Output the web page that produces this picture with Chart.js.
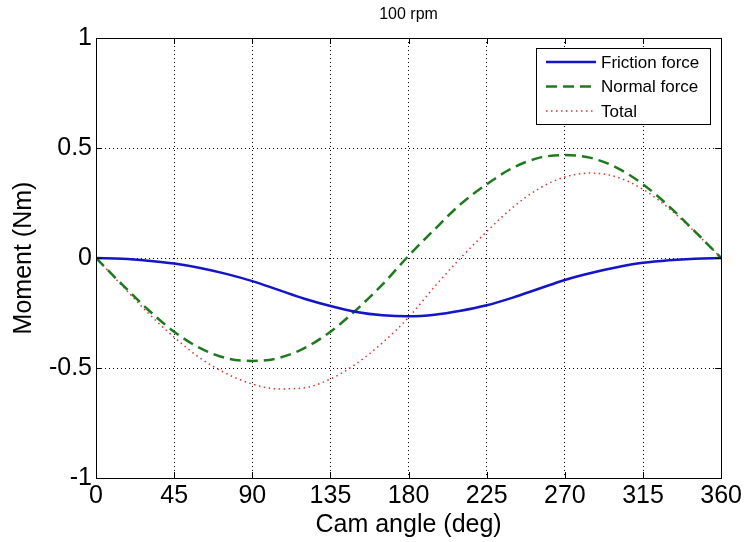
<!DOCTYPE html>
<html lang="en">
<head>
    <meta charset="UTF-8">
    <title>100 rpm</title>
    <script src="https://cdn.jsdelivr.net/npm/chart.js"></script>
    <style>
        body { margin: 0; background: #fff; }
        canvas { display: block; }
    </style>
</head>
<body>
    <canvas id="myChart" width="745" height="542"></canvas>

    <script>
        // Cam angle (deg)
        let angoli = [0, 15, 30, 45, 60, 75, 90, 105, 120, 135, 150, 165, 180,
                      195, 210, 225, 240, 255, 270, 285, 300, 315, 330, 345, 360];
        // Moment (Nm)
        let friction = [0, -0.003, -0.012, -0.025, -0.045, -0.072, -0.105, -0.145, -0.185, -0.218, -0.245, -0.26, -0.265,
                        -0.258, -0.24, -0.215, -0.18, -0.14, -0.1, -0.068, -0.042, -0.022, -0.01, -0.003, 0];
        let normal = [0, -0.12, -0.235, -0.335, -0.41, -0.455, -0.468, -0.455, -0.41, -0.335, -0.235, -0.12, 0.01,
                      0.13, 0.245, 0.335, 0.41, 0.455, 0.468, 0.455, 0.41, 0.335, 0.235, 0.12, 0];
        let total = [0, -0.125, -0.25, -0.36, -0.455, -0.525, -0.573, -0.595, -0.59, -0.55, -0.48, -0.385, -0.27,
                     -0.13, 0, 0.12, 0.23, 0.315, 0.368, 0.386, 0.368, 0.312, 0.225, 0.117, 0];
        let etichette = ['Friction force', 'Normal force', 'Total'];

        const FONT = 'Arial, "Liberation Sans", sans-serif';

        function punti(valori) {
            return angoli.map((a, i) => ({ x: a, y: valori[i] }));
        }

        // box, inner ticks and legend like the original figure
        const cornice = {
            id: 'cornice',
            afterDraw(chart) {
                const ctx = chart.ctx;
                const a = chart.chartArea;
                const xs = chart.scales.x, ys = chart.scales.y;
                ctx.save();
                ctx.setLineDash([]);
                ctx.strokeStyle = '#000';
                ctx.lineWidth = 1;
                ctx.strokeRect(Math.round(a.left) + 0.5, Math.round(a.top) + 0.5,
                               Math.round(a.right - a.left), Math.round(a.bottom - a.top));
                ctx.beginPath();
                xs.ticks.forEach(t => {
                    let px = Math.round(xs.getPixelForValue(t.value)) + 0.5;
                    ctx.moveTo(px, a.bottom); ctx.lineTo(px, a.bottom - 6);
                    ctx.moveTo(px, a.top); ctx.lineTo(px, a.top + 6);
                });
                ys.ticks.forEach(t => {
                    let py = Math.round(ys.getPixelForValue(t.value)) + 0.5;
                    ctx.moveTo(a.left, py); ctx.lineTo(a.left + 6, py);
                    ctx.moveTo(a.right, py); ctx.lineTo(a.right - 6, py);
                });
                ctx.stroke();

                // legenda
                let bx = Math.round(a.right) - 185, by = Math.round(a.top) + 10, bw = 174, bh = 76;
                ctx.fillStyle = '#fff';
                ctx.fillRect(bx, by, bw, bh);
                ctx.strokeRect(bx + 0.5, by + 0.5, bw, bh);
                ctx.font = '17px ' + FONT;
                ctx.textBaseline = 'middle';
                chart.data.datasets.forEach((ds, i) => {
                    let y = by + 14 + i * 24.5;
                    ctx.strokeStyle = ds.borderColor;
                    ctx.lineWidth = ds.borderWidth;
                    ctx.setLineDash(ds.borderDash || []);
                    ctx.beginPath();
                    ctx.moveTo(bx + 10, y); ctx.lineTo(bx + 60, y);
                    ctx.stroke();
                    ctx.setLineDash([]);
                    ctx.fillStyle = '#000';
                    ctx.fillText(ds.label, bx + 65, y + 1);
                });
                ctx.restore();
            }
        };

        let ctx = document.getElementById('myChart').getContext('2d');
        let chart = new Chart(ctx, {
            type: 'line',
            data: {
                datasets: [{
                    label: etichette[0],
                    data: punti(friction),
                    borderColor: '#1414c8',
                    borderWidth: 2.5,
                    pointRadius: 0,
                    cubicInterpolationMode: 'monotone',
                    fill: false
                }, {
                    label: etichette[1],
                    data: punti(normal),
                    borderColor: '#1f7a1f',
                    borderWidth: 2.5,
                    borderDash: [11, 6],
                    pointRadius: 0,
                    cubicInterpolationMode: 'monotone',
                    fill: false
                }, {
                    label: etichette[2],
                    data: punti(total),
                    borderColor: '#e03030',
                    borderWidth: 1.5,
                    borderDash: [1.5, 3.5],
                    pointRadius: 0,
                    cubicInterpolationMode: 'monotone',
                    fill: false
                }]
            },
            options: {
                responsive: false,
                animation: false,
                layout: { padding: { top: 38, right: 22, left: 0, bottom: 0 } },
                plugins: {
                    legend: { display: false },
                    tooltip: { enabled: false },
                    title: { display: false }
                },
                scales: {
                    x: {
                        type: 'linear',
                        min: 0, max: 360,
                        afterFit: s => { s.height = 64; },
                        ticks: {
                            stepSize: 45,
                            padding: 3,
                            color: '#000',
                            maxRotation: 0,
                            font: { family: FONT, size: 25 }
                        },
                        grid: { color: '#000', drawTicks: false, lineWidth: 1 },
                        border: { display: true, color: '#000', dash: [1, 3] },
                        title: {
                            display: true,
                            text: 'Cam angle (deg)',
                            color: '#000',
                            padding: { top: 0, bottom: 2 },
                            font: { family: FONT, size: 25 }
                        }
                    },
                    y: {
                        min: -1, max: 1,
                        afterFit: s => { s.width = 96; },
                        ticks: {
                            stepSize: 0.5,
                            padding: 4,
                            color: '#000',
                            callback: v => String(v),
                            font: { family: FONT, size: 25 }
                        },
                        grid: { color: '#000', drawTicks: false, lineWidth: 1 },
                        border: { display: true, color: '#000', dash: [1, 3] },
                        title: {
                            display: true,
                            text: 'Moment (Nm)',
                            color: '#000',
                            padding: { top: 9, bottom: 0 },
                            font: { family: FONT, size: 25 }
                        }
                    }
                }
            },
            plugins: [cornice, {
                id: 'titolo',
                afterDraw(chart) {
                    const c = chart.ctx, a = chart.chartArea;
                    c.save();
                    c.font = '16px ' + FONT;
                    c.fillStyle = '#000';
                    c.textAlign = 'center';
                    c.textBaseline = 'middle';
                    c.fillText('100 rpm', (a.left + a.right) / 2, 15);
                    c.restore();
                }
            }]
        });
    </script>
</body>
</html>
